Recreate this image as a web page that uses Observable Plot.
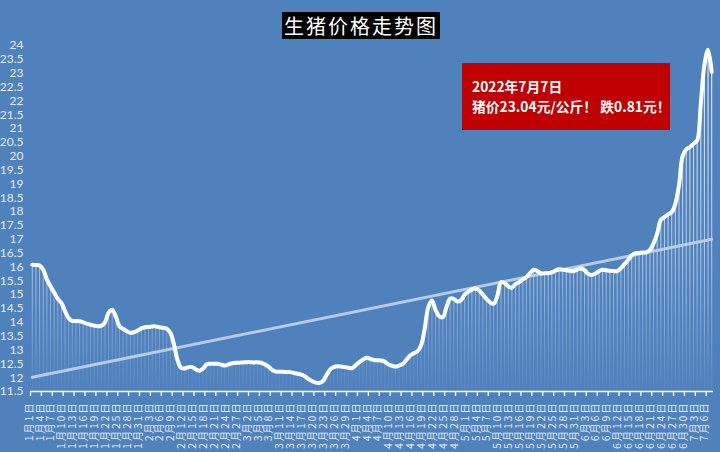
<!DOCTYPE html>
<html>
<head>
<meta charset="utf-8">
<script src="https://cdn.jsdelivr.net/npm/d3@7"></script>
<script src="https://cdn.jsdelivr.net/npm/@observablehq/plot@0.6"></script>
<style>
  html, body { margin: 0; padding: 0; background: #4f81bd; }
  #wrap { position: relative; width: 720px; height: 452px; background: #4f81bd; overflow: hidden; }
  #title { position: absolute; left: 282px; top: 12px; width: 158px; height: 27px; background: #000;
    color: #fff; font: 20px "Noto Sans CJK SC", sans-serif; letter-spacing: 2px; text-align: center; line-height: 27px; }
  #note { position: absolute; left: 462px; top: 63px; width: 208px; height: 67px; background: #c00000;
    color: #fff; font: bold 13.8px "Noto Sans CJK SC", sans-serif; box-sizing: border-box; padding: 13px 0 0 10px; line-height: 20px; white-space: nowrap; }
  #chart svg g[aria-label="text"] text { letter-spacing: 1.8px; }
</style>
</head>
<body>
<div id="wrap">
  <div id="chart"></div>
  <div id="title">生猪价格走势图</div>
  <div id="note">2022年7月7日<br>猪价23.04元/公斤！ 跌0.81元！</div>
</div>
<script>
// Daily pig price (元/公斤), 2022-01-01 .. 2022-07-07
const prices = [
  16.08,16.07,16.05,15.9,15.55,15.3,15.08,14.85,14.7,14.4,
  14.15,14.05,14.05,14.04,14.0,13.95,13.91,13.88,13.86,13.87,
  14.0,14.35,14.45,14.2,13.85,13.76,13.68,13.62,13.64,13.7,
  13.78,13.82,13.83,13.85,13.85,13.82,13.8,13.77,13.62,13.2,
  12.62,12.35,12.33,12.38,12.38,12.3,12.25,12.33,12.48,12.5,
  12.5,12.5,12.47,12.44,12.48,12.52,12.54,12.54,12.55,12.56,
  12.56,12.55,12.56,12.54,12.48,12.4,12.28,12.22,12.21,12.21,
  12.2,12.2,12.17,12.14,12.11,12.05,11.95,11.88,11.82,11.81,
  11.88,12.1,12.3,12.38,12.41,12.4,12.38,12.36,12.34,12.45,
  12.56,12.65,12.72,12.68,12.64,12.63,12.62,12.58,12.48,12.43,
  12.4,12.44,12.5,12.65,12.8,12.88,12.95,13.16,13.76,14.55,
  14.79,14.45,14.22,14.18,14.55,14.85,14.85,14.75,14.8,15.0,
  15.1,15.18,15.22,15.15,15.0,14.85,14.72,14.67,14.95,15.45,
  15.42,15.3,15.25,15.38,15.45,15.55,15.63,15.78,15.9,15.85,
  15.77,15.77,15.77,15.8,15.87,15.92,15.9,15.88,15.86,15.85,
  15.9,15.94,15.88,15.75,15.71,15.76,15.85,15.9,15.88,15.86,
  15.85,15.85,15.95,16.1,16.25,16.42,16.5,16.5,16.52,16.53,
  16.62,16.85,17.2,17.7,17.8,17.9,17.98,18.28,18.95,20.0,
  20.25,20.33,20.45,20.57,21.9,23.3,23.85,23.04
];

// Category-axis labels (every third day, starting 1月1日)
const dateLabels = [
  "1月1日","1月4日","1月7日","1月10日","1月13日","1月16日","1月19日","1月22日","1月25日","1月28日","1月31日",
  "2月3日","2月6日","2月9日","2月12日","2月15日","2月18日","2月21日","2月24日","2月27日",
  "3月2日","3月5日","3月8日","3月11日","3月14日","3月17日","3月20日","3月23日","3月26日","3月29日",
  "4月1日","4月4日","4月7日","4月10日","4月13日","4月16日","4月19日","4月22日","4月25日","4月28日",
  "5月1日","5月4日","5月7日","5月10日","5月13日","5月16日","5月19日","5月22日","5月25日","5月28日","5月31日",
  "6月3日","6月6日","6月9日","6月12日","6月15日","6月18日","6月21日","6月24日","6月27日","6月30日",
  "7月3日","7月6日"
];
const labelStep = 3;
const yTicks = [11.5,12,12.5,13,13.5,14,14.5,15,15.5,16,16.5,17,17.5,18,18.5,19,19.5,20,20.5,21,21.5,22,22.5,23,23.5,24];

const data = prices.map((v, i) => ({i, v}));
const labelData = dateLabels.map((t, k) => ({i: k * labelStep, t}));
const boundaryTicks = d3.range(0, prices.length + 1, labelStep).map(k => k - 0.5);
const yMin = yTicks[0], yMax = yTicks[yTicks.length - 1];

const gradientDefs = (index, scales) => {
  const ns = "http://www.w3.org/2000/svg";
  const g = document.createElementNS(ns, "g");
  g.innerHTML = `<defs><linearGradient id="barGrad" gradientUnits="userSpaceOnUse" x1="0" x2="0" y1="${scales.y(yMax)}" y2="${scales.y(yMin)}">
    <stop offset="0" stop-color="#ffffff" stop-opacity="0.9"/>
    <stop offset="0.6" stop-color="#ffffff" stop-opacity="0.55"/>
    <stop offset="1" stop-color="#ffffff" stop-opacity="0.03"/>
  </linearGradient></defs>`;
  return g;
};

const labelColor = "#e3ebf6";

const chart = Plot.plot({
  width: 720,
  height: 452,
  marginLeft: 30,
  marginRight: 7,
  marginTop: 45,
  marginBottom: 61,
  style: {background: "transparent", fontFamily: "Lato, 'Noto Sans CJK SC', sans-serif", color: labelColor},
  x: {type: "linear", domain: [-0.5, prices.length - 0.5], axis: null},
  y: {domain: [yMin, yMax], axis: null},
  marks: [
    gradientDefs,
    Plot.ruleX(data, {x: "i", y1: yMin, y2: "v", stroke: "url(#barGrad)", strokeWidth: 1.1}),
    Plot.linearRegressionY(data, {x: "i", y: "v", stroke: "#c3d3ea", strokeOpacity: 0.9, strokeWidth: 3, ci: 0}),
    Plot.line(data, {x: "i", y: "v", stroke: "#ffffff", strokeWidth: 4, curve: "catmull-rom", strokeLinejoin: "round"}),
    Plot.axisY({ticks: yTicks, tickSize: 0, tickPadding: 7, tickFormat: d => String(d), fontSize: 12, fill: labelColor, label: null}),
    Plot.ruleY([yMin], {stroke: "#ffffff", strokeWidth: 1.3}),
    Plot.axisX({ticks: boundaryTicks, tickSize: 5, tickFormat: () => "", stroke: "#ffffff", strokeWidth: 1.3, label: null}),
    Plot.text(labelData, {x: "i", y: yMin, text: "t", rotate: -90, textAnchor: "end", lineAnchor: "middle",
      dx: -3, dy: 10, fill: labelColor, fontSize: 10.5, fontFamily: "'Noto Sans CJK SC', sans-serif"})
  ]
});
document.getElementById("chart").appendChild(chart);
</script>
</body>
</html>
